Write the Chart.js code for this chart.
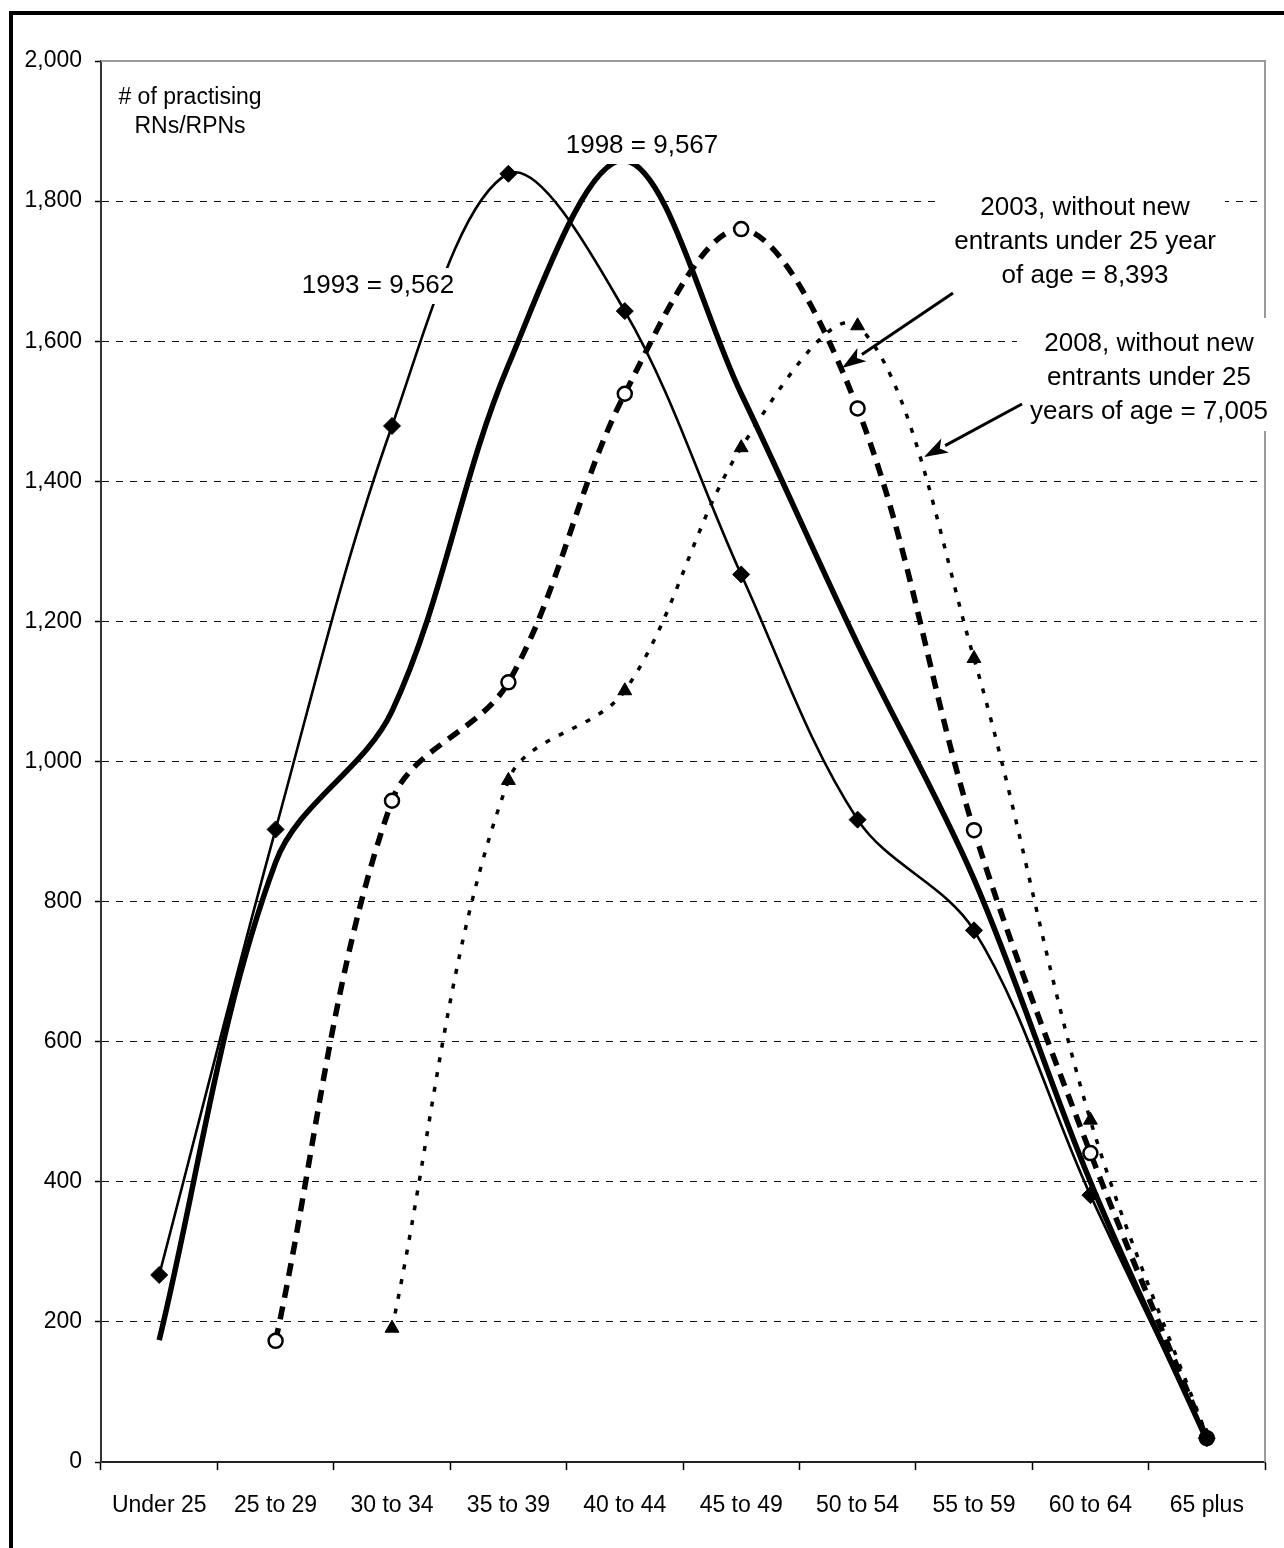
<!DOCTYPE html>
<html>
<head>
<meta charset="utf-8">
<title>Practising RNs/RPNs by age group</title>
<script src="https://cdn.jsdelivr.net/npm/chart.js@4.4.1/dist/chart.umd.min.js"></script>
<style>
  html, body { margin: 0; padding: 0; background: #fff; overflow: hidden; }
  #frame { position: absolute; left: 9px; top: 11px; width: 1400px; height: 1700px;
           border: 4px solid #000; box-sizing: border-box; }
  #wrap { position: absolute; left: 0; top: 0; width: 1284px; height: 1548px; }
</style>
</head>
<body>
<div id="frame"></div>
<div id="wrap"><canvas id="chart" width="1284" height="1548"></canvas></div>
<script>
// Age groups along the horizontal axis
const ageGroups = ['Under 25', '25 to 29', '30 to 34', '35 to 39', '40 to 44',
                   '45 to 49', '50 to 54', '55 to 59', '60 to 64', '65 plus'];

// Number of practising RNs/RPNs in each age group
const nurses1993 = [267, 903, 1479, 1839, 1643, 1267, 917, 759, 381, 34];
const nurses1998 = [174, 856, 1072, 1566, 1858, 1525, 1168, 832, 400, 31];
const nurses2003 = [null, 173, 944, 1113, 1525, 1760, 1504, 902, 441, 34];
const nurses2008 = [null, null, 191, 973, 1101, 1448, 1622, 1147, 488, 37];

// Vertical axis range
const yMin = 0;
const yMax = 2000;
const yStep = 200;

// Totals written beside the curves
const label1993 = ['1993 = 9,562'];
const label1998 = ['1998 = 9,567'];
const label2003 = ['2003, without new', 'entrants under 25 year', 'of age = 8,393'];
const label2008 = ['2008, without new', 'entrants under 25', 'years of age = 7,005'];
const axisCaption = ['# of practising', 'RNs/RPNs'];

const FONT = "'Liberation Sans', Arial, Helvetica, sans-serif";

// Plot frame: grey top and right edges of the plotting area
const plotFrame = {
  id: 'plotFrame',
  beforeDatasetsDraw(chart) {
    const { ctx, chartArea: a } = chart;
    ctx.save();
    ctx.strokeStyle = '#9a9a9a';
    ctx.lineWidth = 2;
    ctx.beginPath();
    ctx.moveTo(a.left, a.top);
    ctx.lineTo(a.right, a.top);
    ctx.lineTo(a.right, a.bottom);
    ctx.stroke();
    ctx.restore();
  }
};

function textBlock(ctx, lines, cx, firstY, lineH, size, box) {
  ctx.save();
  if (box) {
    ctx.fillStyle = '#fff';
    ctx.fillRect(box[0], box[1], box[2] - box[0], box[3] - box[1]);
  }
  ctx.fillStyle = '#000';
  ctx.font = size + 'px ' + FONT;
  ctx.textAlign = 'center';
  ctx.textBaseline = 'middle';
  lines.forEach((t, i) => ctx.fillText(t, cx, firstY + i * lineH));
  ctx.restore();
}

function arrow(ctx, x0, y0, x1, y1) {
  const ang = Math.atan2(y1 - y0, x1 - x0);
  const headLen = 24, headHalf = 8;
  const bx = x1 - headLen * Math.cos(ang), by = y1 - headLen * Math.sin(ang);
  ctx.save();
  ctx.strokeStyle = '#000';
  ctx.fillStyle = '#000';
  ctx.lineWidth = 3;
  ctx.beginPath();
  ctx.moveTo(x0, y0);
  ctx.lineTo(bx, by);
  ctx.stroke();
  ctx.beginPath();
  ctx.moveTo(x1, y1);
  ctx.lineTo(bx + headHalf * Math.sin(ang), by - headHalf * Math.cos(ang));
  ctx.lineTo(bx + 6 * Math.cos(ang), by + 6 * Math.sin(ang));
  ctx.lineTo(bx - headHalf * Math.sin(ang), by + headHalf * Math.cos(ang));
  ctx.closePath();
  ctx.fill();
  ctx.restore();
}

// Captions, total labels and pointer arrows
const notes = {
  id: 'notes',
  afterDatasetsDraw(chart) {
    const ctx = chart.ctx;
    textBlock(ctx, axisCaption, 190, 98, 29, 23, null);
    textBlock(ctx, label1993, 378, 286, 34, 26, [300, 268, 458, 304]);
    textBlock(ctx, label1998, 642, 146, 34, 26, [564, 128, 720, 164]);
    textBlock(ctx, label2003, 1085, 208, 34, 26, [938, 188, 1225, 293]);
    textBlock(ctx, label2008, 1149, 344, 34, 26, [1017, 318, 1284, 431]);
    arrow(ctx, 953, 293, 842, 368);
    arrow(ctx, 1022, 404, 924, 457);
  }
};

new Chart(document.getElementById('chart'), {
  type: 'line',
  data: {
    labels: ageGroups,
    datasets: [
      {
        label: '1993',
        data: nurses1993,
        borderColor: '#000',
        borderWidth: 2.6,
        pointStyle: 'rectRot',
        pointRadius: 8.5,
        pointBackgroundColor: '#000',
        pointBorderColor: '#000',
        pointBorderWidth: 1,
        order: 1
      },
      {
        label: '1998',
        data: nurses1998,
        borderColor: '#000',
        borderWidth: 5.5,
        pointRadius: 0,
        order: 2
      },
      {
        label: '2003',
        data: nurses2003,
        borderColor: '#000',
        borderWidth: 5.5,
        borderDash: [13, 9],
        pointStyle: 'circle',
        pointRadius: 7,
        pointBackgroundColor: '#fff',
        pointBorderColor: '#000',
        pointBorderWidth: 2.5,
        order: 3
      },
      {
        label: '2008',
        data: nurses2008,
        borderColor: '#000',
        borderWidth: 3.5,
        borderDash: [5, 10],
        pointStyle: 'triangle',
        pointRadius: 8,
        pointBackgroundColor: '#000',
        pointBorderColor: '#000',
        pointBorderWidth: 1,
        order: 4
      }
    ]
  },
  options: {
    responsive: false,
    animation: false,
    devicePixelRatio: 1,
    spanGaps: false,
    layout: { padding: { left: 0, right: 19, top: 61, bottom: 0 } },
    elements: { line: { tension: 0.34, fill: false, cubicInterpolationMode: 'default' } },
    plugins: { legend: { display: false }, tooltip: { enabled: false } },
    scales: {
      x: {
        offset: true,
        grid: { offset: true, drawOnChartArea: false, drawTicks: true, tickLength: 8,
                tickColor: '#000', tickWidth: 1.5 },
        border: { display: true, color: '#222', width: 2 },
        ticks: { color: '#000', font: { family: FONT, size: 23 }, padding: 22, maxRotation: 0, autoSkip: false },
        afterFit(s) { s.height = 86; }
      },
      y: {
        min: yMin,
        max: yMax,
        grid: {
          color: ctx => (ctx.tick && (ctx.tick.value === yMax || ctx.tick.value === yMin)) ? 'rgba(0,0,0,0)' : '#111',
          lineWidth: 1,
          drawTicks: true,
          tickLength: 6,
          tickColor: '#000',
          tickWidth: 1.5,
          tickBorderDash: []
        },
        border: { display: true, color: '#333', width: 2, dash: [7, 7] },
        ticks: {
          stepSize: yStep,
          color: '#000',
          font: { family: FONT, size: 23 },
          padding: 13,
          callback: v => v.toLocaleString('en-US')
        },
        afterFit(s) { s.width = 101; }
      }
    }
  },
  plugins: [plotFrame, notes]
});
</script>
</body>
</html>
